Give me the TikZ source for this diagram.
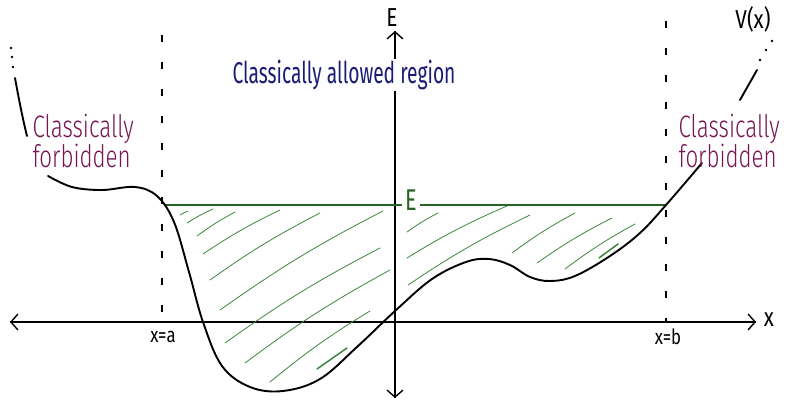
\documentclass[tikz,border=0pt]{standalone}
\usepackage{fontspec}
\setmainfont{Fira Sans Light}
\newfontfamily\labelfont{Fira Sans}
\usepackage{xcolor}
\usepackage{tikz}
\usetikzlibrary{arrows.meta}

\definecolor{hatchgreen}{RGB}{62,132,62}
\definecolor{linegreen}{RGB}{38,100,38}
\definecolor{forbidcol}{RGB}{118,22,84}
\definecolor{allowcol}{RGB}{28,28,118}

\newcommand{\narrow}[1]{\scalebox{0.8}[1]{#1}}
\newcommand{\slim}[1]{\scalebox{0.72}[1]{#1}}

\tikzset{
  axis/.style={line width=1.4pt, -{Straight Barb[length=7pt,width=16pt,line width=1.4pt]}},
  potential/.style={line width=1.9pt, line cap=round},
  turnline/.style={line width=1.2pt, dash pattern=on 7pt off 20pt},
  hatch/.style={hatchgreen, line width=0.8pt, line cap=round},
  levelline/.style={linegreen, line width=1.5pt},
  forbid/.style={forbidcol, align=left, anchor=west, font=\fontsize{31}{28}\selectfont},
  lbl/.style={font=\labelfont\fontsize{26}{28}\selectfont}
}

\begin{document}
\begin{tikzpicture}[x=1pt, y=-1pt]
  \useasboundingbox (0,0) rectangle (793,403);

  % -- axes ---------------------------------------------------------------
  \coordinate (xl) at (10,322);
  \coordinate (xr) at (756,322);
  \coordinate (et) at (395,31);
  \coordinate (eb) at (395,398);
  \draw[axis] (xr) -- (xl);
  \draw[axis] (xl) -- (xr);
  \draw[axis] (eb) -- (et);
  \draw[axis] (et) -- (eb);
  \node[lbl] (xlab) at (769,320) {\narrow{x}};
  \node[lbl] (elab) at (392,18) {\narrow{E}};

  % -- turning points ------------------------------------------------------
  \draw[turnline] (162,35) -- (162,322);
  \draw[turnline] (666,21) -- (666,322);
  \node[font=\labelfont\fontsize{21}{22}\selectfont] (xa) at (163,337) {\narrow{x=a}};
  \node[font=\labelfont\fontsize{21}{22}\selectfont] (xb) at (668,337) {\narrow{x=b}};

  % -- hatching of the allowed region ---------------------------------------
  \foreach \xa/\ya/\xb/\yb in {180/215/188/211, 187/223/213/209, 197/236/235/212,
      203/254/280/210, 210/280/320/213, 220/310/383/211, 225/343/380/248,
      245/363/390/270, 270/382/370/311, 407/232/438/213, 407/258/507/206,
      408/285/530/215, 512/253/575/213, 537/263/612/218, 565/269/635/224}
    \draw[hatch] (\xa,\ya) to[bend left=4] (\xb,\yb);
  \draw[hatch, line width=1.5pt] (317,369) -- (347,348);
  \draw[hatch, line width=1.5pt] (599,258) -- (618,244);

  % -- energy level -------------------------------------------------------
  \coordinate (ta) at (164,205);
  \coordinate (tb) at (666,205);
  \node[linegreen, font=\labelfont\fontsize{30}{32}\selectfont, inner sep=3pt]
    (elev) at (411,200) {\slim{E}};
  \draw[levelline] (ta) -- (elev.west |- ta);
  \draw[levelline] (elev.east |- tb) -- (tb);

  % -- potential V(x) -----------------------------------------------------
  \draw[potential] (15,78) .. controls (19,100) and (23,120) .. (27,136);
  \draw[potential] plot[smooth, tension=0.6] coordinates {
      (48,176) (72,187) (102,190) (135,187) (157,196) (174,222) (189,272)
      (203,322) (222,366) (250,387) (283,391) (320,379) (358,346) (395,311)
      (432,279) (466,262) (489,259) (510,265) (530,277) (550,281) (575,276)
      (610,256) (640,233) (666,205) (702,163)};
  \draw[potential] (740,100) -- (757,70);
  \foreach \px/\py in {11/48, 12/57, 13/67, 760/60, 766/50, 772/41}
    \fill (\px,\py) circle (1.4pt);
  \node[lbl] (vlab) at (753,19) {\narrow{V(x)}};

  % -- region labels ------------------------------------------------------
  \node[allowcol, fill=white, inner sep=1pt, font=\labelfont\fontsize{30}{32}\selectfont]
    (allowed) at (344,75) {\scalebox{0.64}[1]{Classically allowed region}};
  \node[forbid] (forbl) at (29,141) {\slim{Classically}\\\slim{forbidden}};
  \node[forbid] (forbr) at (675,141) {\slim{Classically}\\\slim{forbidden}};

\end{tikzpicture}
\end{document}
